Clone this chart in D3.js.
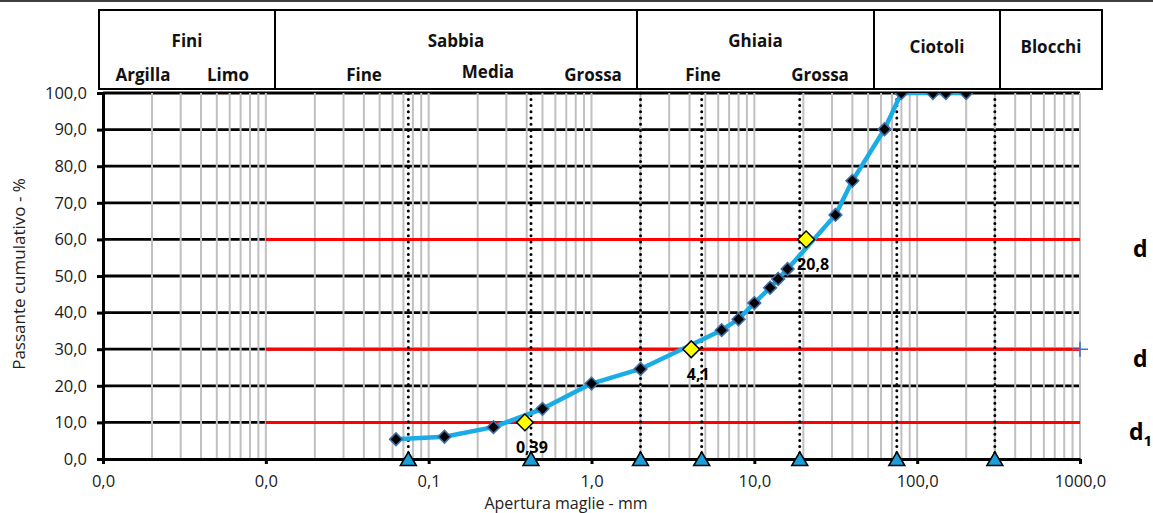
<!DOCTYPE html>
<html>
<head>
<meta charset="utf-8">
<script src="https://cdn.jsdelivr.net/npm/d3@7"></script>
<style>
  body { margin: 0; background: #fff; }
  svg { display: block; font-family: "Open Sans", sans-serif; }
</style>
</head>
<body>
<div id="chart"></div>
<script>
// curva granulometrica
const sieveMm = [0.063, 0.125, 0.25, 0.5, 1, 2, 6.3, 8, 10, 12.5, 14, 16, 31.5, 40, 63, 80, 125, 150, 200];
const passing = [5.4, 6.1, 8.7, 13.7, 20.6, 24.6, 35.2, 38.2, 42.6, 46.8, 49.2, 51.9, 66.7, 76.0, 90.1, 100, 100, 100, 100];

// diametri caratteristici d10, d30, d60
const dLevels = [10, 30, 60];
const dMm = [0.39, 4.1, 20.8];
const dSubs = ["1", "", ""];

// limiti delle classi (triangoli sull'asse)
const limitsMm = [0.075, 0.425, 2, 4.75, 19, 75, 300];

const xTicks = [0.001, 0.01, 0.1, 1, 10, 100, 1000];
const yTicks = [0, 10, 20, 30, 40, 50, 60, 70, 80, 90, 100];

const headerGroups = ["Fini", "Sabbia", "Ghiaia", "Ciotoli", "Blocchi"];
const headerSubs = [["Argilla", "Limo"], ["Fine", "Media", "Grossa"], ["Fine", "Grossa"], [], []];

const W = 1153, H = 513;
const x = d3.scaleLog().domain([0.001, 1000]).range([103, 1080]);
const y = d3.scaleLinear().domain([0, 100]).range([459, 93]);
const fmt = v => v.toFixed(1).replace(".", ",");

const svg = d3.select("#chart").append("svg")
    .attr("width", W)
    .attr("height", H);

svg.append("defs").append("clipPath").attr("id", "plot")
  .append("rect")
    .attr("x", x.range()[0]).attr("y", y(100))
    .attr("width", x.range()[1] - x.range()[0])
    .attr("height", y(0) - y(100));

// top rule
svg.append("line")
    .attr("x1", 0).attr("x2", W).attr("y1", 1).attr("y2", 1)
    .attr("stroke", "#000").attr("stroke-width", 1.5);

// horizontal grid
svg.append("g").selectAll("line")
    .data(yTicks.slice(1))
    .join("line")
    .attr("x1", x(0.001)).attr("x2", x(1000))
    .attr("y1", d => y(d)).attr("y2", d => y(d))
    .attr("stroke", "#000").attr("stroke-width", 2.8);

// minor vertical grid
const minor = [];
xTicks.slice(0, -1).forEach(dec => {
    for (let k = 1; k <= 9; k++) if (!(dec === 0.001 && k === 1)) minor.push(dec * k);
});
minor.push(1000);
svg.append("g").selectAll("line")
    .data(minor)
    .join("line")
    .attr("x1", d => x(d)).attr("x2", d => x(d))
    .attr("y1", y(0)).attr("y2", y(100))
    .attr("stroke", "#c0c0c0").attr("stroke-width", 2);

// red lines at d10/d30/d60
svg.append("g").selectAll("line")
    .data(dLevels)
    .join("line")
    .attr("x1", x(0.01)).attr("x2", x(1000))
    .attr("y1", d => y(d)).attr("y2", d => y(d))
    .attr("stroke", "#ff0000").attr("stroke-width", 3);

// dotted class limits
svg.append("g").selectAll("line")
    .data(limitsMm)
    .join("line")
    .attr("x1", d => x(d)).attr("x2", d => x(d))
    .attr("y1", y(0)).attr("y2", y(100))
    .attr("stroke", "#000").attr("stroke-width", 3)
    .attr("stroke-linecap", "round")
    .attr("stroke-dasharray", "0,6.2");

// axes
const yAxis = svg.append("g")
    .attr("transform", `translate(${x(0.001)},0)`)
    .call(d3.axisLeft(y).tickValues(yTicks).tickFormat(fmt).tickSize(6).tickSizeOuter(0).tickPadding(10));
const xAxis = svg.append("g")
    .attr("transform", `translate(0,${y(0)})`)
    .call(d3.axisBottom(x).tickValues(xTicks).tickFormat(fmt).tickSize(5).tickSizeOuter(0).tickPadding(11));
[yAxis, xAxis].forEach(a => {
    a.select(".domain").attr("stroke", "#000").attr("stroke-width", 3);
    a.selectAll(".tick line").attr("stroke", "#000").attr("stroke-width", 3);
    a.selectAll(".tick text")
        .attr("fill", "#1a1a1a")
        .style("font-family", "'Open Sans', sans-serif")
        .style("font-size", "16.5px");
});

// series
const pts = sieveMm.map((d, i) => [d, passing[i]]);
const series = svg.append("g").attr("clip-path", "url(#plot)");
series.append("path")
    .datum(pts)
    .attr("fill", "none")
    .attr("stroke", "#1aace6")
    .attr("stroke-width", 4.5)
    .attr("stroke-linejoin", "round")
    .attr("d", d3.line().x(d => x(d[0])).y(d => y(d[1])));
series.selectAll("path.m")
    .data(pts)
    .join("path")
    .attr("class", "m")
    .attr("transform", d => `translate(${x(d[0])},${y(d[1])}) rotate(45)`)
    .attr("d", d3.symbol(d3.symbolSquare, 80))
    .attr("fill", "#000")
    .attr("stroke", "#3d6da6")
    .attr("stroke-width", 1.6);

// d points
svg.append("g").selectAll("path")
    .data(dMm)
    .join("path")
    .attr("transform", (d, i) => `translate(${x(d)},${y(dLevels[i])}) rotate(45)`)
    .attr("d", d3.symbol(d3.symbolSquare, 140))
    .attr("fill", "#ffff00")
    .attr("stroke", "#000")
    .attr("stroke-width", 1.5);
svg.append("g").selectAll("text")
    .data(dMm)
    .join("text")
    .attr("x", d => x(d) + 7)
    .attr("y", (d, i) => y(dLevels[i]) + 31)
    .attr("text-anchor", "middle")
    .style("font-weight", "bold")
    .style("font-size", "16px")
    .text(d => String(d).replace(".", ","));

// triangles on the axis
svg.append("g").selectAll("path")
    .data(limitsMm)
    .join("path")
    .attr("transform", d => `translate(${x(d)},${y(0)})`)
    .attr("d", "M0,-7L8,6.5L-8,6.5Z")
    .attr("fill", "#1a9fdb")
    .attr("stroke", "#000")
    .attr("stroke-width", 1.5);

// blue cross at the end of d30
svg.append("path")
    .attr("transform", `translate(${x(1000)},${y(30)})`)
    .attr("d", "M-8,0H8M0,-7.5V7.5")
    .attr("stroke", "#4472c4")
    .attr("stroke-width", 1.6);

// right labels
const rl = svg.append("g").selectAll("text")
    .data(dLevels)
    .join("text")
    .attr("x", (d, i) => dSubs[i] ? 1129 : 1133)
    .attr("y", d => y(d) + 18)
    .style("font-weight", "bold")
    .style("font-size", "23px")
    .text("d");
rl.append("tspan")
    .attr("dy", 6)
    .style("font-size", "15px")
    .text((d, i) => dSubs[i]);

// axis titles
svg.append("text")
    .attr("transform", `translate(25,274) rotate(-90)`)
    .attr("text-anchor", "middle")
    .attr("fill", "#222")
    .style("font-size", "17px")
    .text("Passante cumulativo - %");
svg.append("text")
    .attr("x", 566).attr("y", 509)
    .attr("text-anchor", "middle")
    .attr("fill", "#222")
    .style("font-size", "16px")
    .text("Apertura maglie - mm");

// header table
const colEdges = [99, 275, 637, 874, 1000, 1102];
const groupY = [47, 47, 47, 53, 53];
const subX = [[143, 228], [364, 488, 593], [703, 820], [], []];
const subY = [[81, 81], [81, 78, 81], [81, 81], [], []];
const head = svg.append("g")
    .style("font-weight", "bold")
    .style("font-size", "17px")
    .attr("fill", "#111");
head.append("rect")
    .attr("x", colEdges[0]).attr("y", 10)
    .attr("width", colEdges[5] - colEdges[0]).attr("height", 79)
    .attr("fill", "#fff").attr("stroke", "#000").attr("stroke-width", 2);
head.selectAll("line")
    .data(colEdges.slice(1, -1))
    .join("line")
    .attr("x1", d => d).attr("x2", d => d)
    .attr("y1", 10).attr("y2", 89)
    .attr("stroke", "#000").attr("stroke-width", 2);
head.selectAll("text.g")
    .data(headerGroups)
    .join("text")
    .attr("class", "g")
    .attr("x", (d, i) => (colEdges[i] + colEdges[i + 1]) / 2)
    .attr("y", (d, i) => groupY[i])
    .attr("text-anchor", "middle")
    .text(d => d);
headerSubs.forEach((subs, i) => {
    subs.forEach((s, j) => {
        head.append("text")
            .attr("x", subX[i][j]).attr("y", subY[i][j])
            .attr("text-anchor", "middle")
            .text(s);
    });
});
</script>
</body>
</html>
